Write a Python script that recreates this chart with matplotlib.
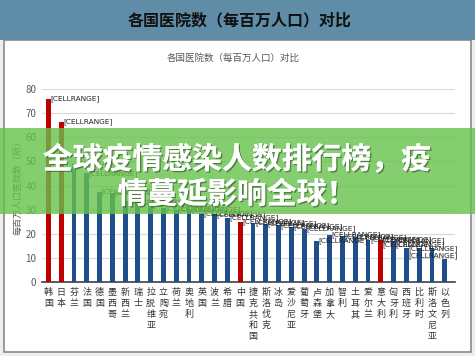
import matplotlib
matplotlib.use("Agg")
import matplotlib.pyplot as plt
import matplotlib.patheffects as pe
from matplotlib.patches import Rectangle

plt.rcParams['font.family'] = ['Noto Sans CJK SC', 'DejaVu Sans']

# countries and hospitals per million people
countries = ['韩国', '日本', '芬兰', '法国', '德国', '墨西哥', '新西兰', '瑞士',
             '拉脱维亚', '立陶宛', '荷兰', '奥地利', '英国', '波兰', '希腊', '中国',
             '捷克共和国', '斯洛伐克', '冰岛', '爱沙尼亚', '葡萄牙', '卢森堡', '加拿大',
             '智利', '土耳其', '爱尔兰', '意大利', '匈牙利', '西班牙', '比利时',
             '斯洛文尼亚', '以色列']
hospitals = [76, 66.5, 49, 45, 37.5, 37, 33.5, 33, 32, 30.5, 30, 30, 28.5, 28, 26.5, 25,
             24.5, 24, 23.5, 23, 22, 17, 19.5, 19, 18.5, 17.5, 17.5, 17, 14, 14, 14, 9.5]
highlight = ['韩国', '日本', '中国', '意大利']
yticks = [0, 10, 20, 30, 40, 50, 60, 70, 80]

header = '各国医院数（每百万人口）对比'
chart_title = '各国医院数（每百万人口）对比'
ylabel = '每百万人口医院数（所）'
banner = '全球疫情感染人数排行榜，疫\n情蔓延影响全球！'

W, H = 475, 356
fig = plt.figure(figsize=(W / 100, H / 100), dpi=100)
fig.patch.set_facecolor('#eeeeee')

# white panel with grey frame, and the header band
fig.add_artist(Rectangle((4 / W, 4 / H), 467 / W, 312 / H, transform=fig.transFigure,
                         facecolor='white', edgecolor='#8a8a8a', lw=1.2, zorder=0))
fig.add_artist(Rectangle((0, 316 / H), 1, 40 / H, transform=fig.transFigure,
                         facecolor='#5f8da7', edgecolor='none', zorder=0))
fig.text(240 / W, 1 - 20 / H, header, ha='center', va='center', fontsize=11.5,
         fontweight='bold', color='#111111')
fig.text(233 / W, 1 - 58 / H, chart_title, ha='center', va='center', fontsize=6.8,
         color='#595959')

ax = fig.add_axes([42 / W, 74 / H, 413 / W, 193 / H])
ax.set_facecolor('none')
x = list(range(len(countries)))
colors = ['#c00000' if c in highlight else '#1f4e8c' for c in countries]
ax.bar(x, hospitals, width=0.38, color=colors, zorder=3)

for xi, v in zip(x, hospitals):
    if xi >= len(countries) - 3:
        ax.text(xi + 1.0, v + 1.5, '[CELLRANGE]', ha='right', va='center', fontsize=5.3,
                color='#222222', family='DejaVu Sans', zorder=4)
    else:
        ax.text(xi + 0.15, v, '[CELLRANGE]', ha='left', va='center', fontsize=5.3,
                color='#222222', family='DejaVu Sans', zorder=4)

ax.set_xlim(-0.5, 31.8)
ax.set_ylim(0, 80)
ax.set_yticks(yticks)
ax.set_yticklabels([str(t) for t in yticks], fontsize=7, color='#595959')
ax.grid(axis='y', color='#d9d9d9', lw=0.8, zorder=0)
ax.set_xticks(x)
ax.set_xticklabels(['\n'.join(c) for c in countries], fontsize=6.5, color='#333333',
                   linespacing=1.3, va='top')
ax.tick_params(length=0, pad=4)
for s in ['top', 'right', 'left']:
    ax.spines[s].set_visible(False)
ax.spines['bottom'].set_color('#404040')
ax.spines['bottom'].set_linewidth(1.2)
ax.set_ylabel(ylabel, fontsize=6.5, color='#595959', labelpad=2)

# green banner over the chart
fig.add_artist(Rectangle((0, 1 - 214 / H), 1, 86 / H, transform=fig.transFigure,
                         facecolor='#66c24c', alpha=0.8, edgecolor='none', zorder=10))
fig.text(237 / W, 1 - 177 / H, banner, ha='center', va='center', fontsize=21.5,
         fontweight='bold', color='white', linespacing=1.2, zorder=11,
         path_effects=[pe.withSimplePatchShadow(offset=(1, -1), shadow_rgbFace='#2a5020',
                                                alpha=0.6), pe.Normal()])

fig.savefig('out.png', dpi=100, facecolor=fig.get_facecolor())
